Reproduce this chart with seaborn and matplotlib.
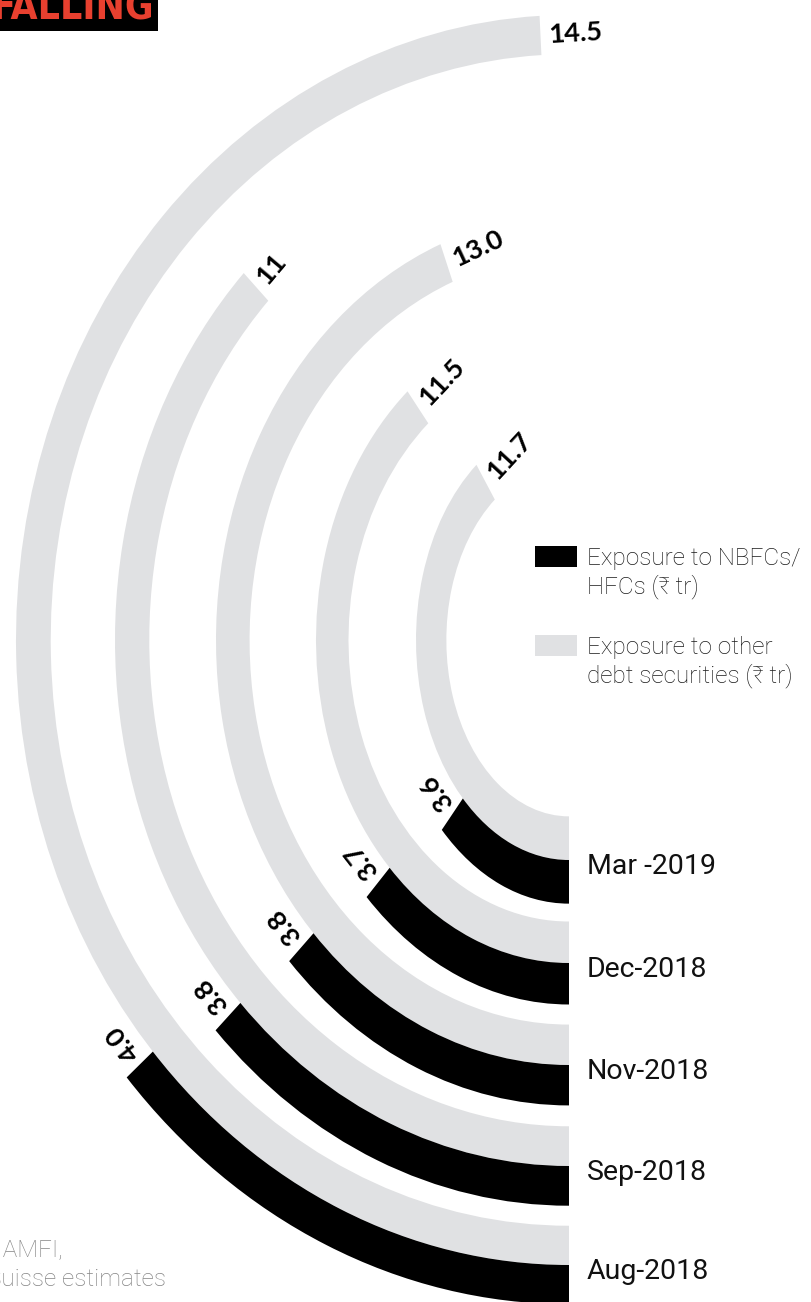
import numpy as np
import matplotlib
matplotlib.use("Agg")
import matplotlib.pyplot as plt
from matplotlib.patches import Patch, Rectangle
from matplotlib.legend_handler import HandlerPatch
import seaborn as sns

# ---------------- data ----------------
months = ["Aug-2018", "Sep-2018", "Nov-2018", "Dec-2018", "Mar -2019"]
nbfc_exposure = [4.0, 3.8, 3.8, 3.7, 3.6]          # Exposure to NBFCs/HFCs (₹ tr)
other_exposure = [14.5, 11, 13.0, 11.5, 11.7]      # Exposure to other debt securities (₹ tr)
nbfc_labels = ["4.0", "3.8", "3.8", "3.7", "3.6"]
other_labels = ["14.5", "11", "13.0", "11.5", "11.7"]
legend_labels = ["Exposure to NBFCs/\nHFCs (₹ tr)",
                 "Exposure to other\ndebt securities (₹ tr)"]

# ---------------- style ----------------
sns.set_theme(style="white")
plt.rcParams["font.family"] = ["Roboto", "DejaVu Sans"]

GREY = "#e0e1e3"
BLACK = "#000000"
FULL_CIRCLE = 29.5  # value units that would make a full turn

W, H = 811, 1302
fig = plt.figure(figsize=(W / 100, H / 100), dpi=100)
fig.patch.set_facecolor("white")

# ring geometry (pixels): centre and per-ring horizontal / vertical radius of the
# boundary between the grey and black bands
cx, cy = 569, H - 640
h_bound = [553, 454, 353, 253, 153]
v_bound = [625, 526, 425, 323, 220]
R = 700.0

num_font = dict(family=["Lato", "DejaVu Sans"], fontweight="bold", fontsize=19.5, color="black")


def tangent(ax, th, r):
    p0 = ax.transData.transform((th, r))
    p1 = ax.transData.transform((th + 1e-3, r))
    d = p1 - p0
    d = d / np.hypot(*d)
    return np.degrees(np.arctan2(d[1], d[0])), d


for i, m in enumerate(months):
    k = v_bound[i] / h_bound[i]
    t = 37.0 * 2 / (1 + k)
    ax = fig.add_axes([(cx - R) / W, (cy - R * k) / H, 2 * R / W, 2 * R * k / H],
                      projection="polar")
    ax.set_theta_zero_location("S")
    ax.set_theta_direction(-1)
    ax.set_ylim(0, R)
    ax.set_aspect("auto")
    ax.set_axis_off()

    th_other = other_exposure[i] / FULL_CIRCLE * 2 * np.pi
    th_nbfc = nbfc_exposure[i] / FULL_CIRCLE * 2 * np.pi
    hb = h_bound[i]

    ax.bar(0, t, width=th_other, bottom=hb - t, align="edge",
           color=GREY, linewidth=0)
    ax.bar(0, t, width=th_nbfc, bottom=hb, align="edge",
           color=BLACK, linewidth=0)

    # value labels continuing each arc
    ang, u = tangent(ax, th_other, hb - t / 2)
    ax.annotate(other_labels[i], xy=(th_other, hb - t / 2),
                xytext=(6 * u[0], 6 * u[1]), textcoords="offset points",
                rotation=ang, rotation_mode="anchor", ha="left", va="center",
                **num_font)
    ang, u = tangent(ax, th_nbfc, hb + t / 2)
    ax.annotate(nbfc_labels[i], xy=(th_nbfc, hb + t / 2),
                xytext=(6 * u[0], 6 * u[1]), textcoords="offset points",
                rotation=ang, rotation_mode="anchor", ha="left", va="center",
                **num_font)

    # month label beside the start of the black band
    ax.annotate(m, xy=(0, hb), xytext=(13, -4.5), textcoords="offset points",
                ha="left", va="center", fontsize=20.5, color="#111111",
                family=["Roboto", "DejaVu Sans"])

# legend (swatch aligned with the first text line)
LEG_FS = 17.5


def top_aligned_patch(legend, orig_handle, xdescent, ydescent, width, height, fontsize):
    return Rectangle((-xdescent, -ydescent + 0.72 * fontsize), width, height)


handles = [Patch(facecolor=BLACK, edgecolor="none"),
           Patch(facecolor=GREY, edgecolor="none")]
leg = fig.legend(handles, legend_labels, loc="upper left",
                 bbox_to_anchor=(535 / W, 1 - 547 / H), frameon=False,
                 handlelength=1.73, handleheight=0.95, borderpad=0,
                 handletextpad=0.42, labelspacing=1.5, borderaxespad=0,
                 prop=dict(family=["Roboto", "DejaVu Sans"], weight="light", size=LEG_FS),
                 handler_map={Patch: HandlerPatch(patch_func=top_aligned_patch)})
for txt in leg.get_texts():
    txt.set_color("#1a1a1a")
    txt.set_linespacing(1.25)

# title (cut at the top-left corner)
fig.text(-8 / W, 1 - 20 / H, "FALLING", ha="left", va="baseline",
         fontsize=28, fontweight="bold", fontstretch="condensed", color="#e8402f",
         family=["DejaVu Sans"],
         bbox=dict(boxstyle="square,pad=0.08", facecolor="black", edgecolor="none"))

# source note (cut at the left edge)
src_font = dict(fontsize=17.5, color="#858585", fontweight="light",
                family=["Roboto", "DejaVu Sans"], ha="right", va="baseline")
fig.text(63 / W, 1 - 1256 / H, "Source: AMFI,", **src_font)
fig.text(166 / W, 1 - 1286 / H, "Credit Suisse estimates", **src_font)

fig.savefig("out.png", dpi=100, facecolor="white")
